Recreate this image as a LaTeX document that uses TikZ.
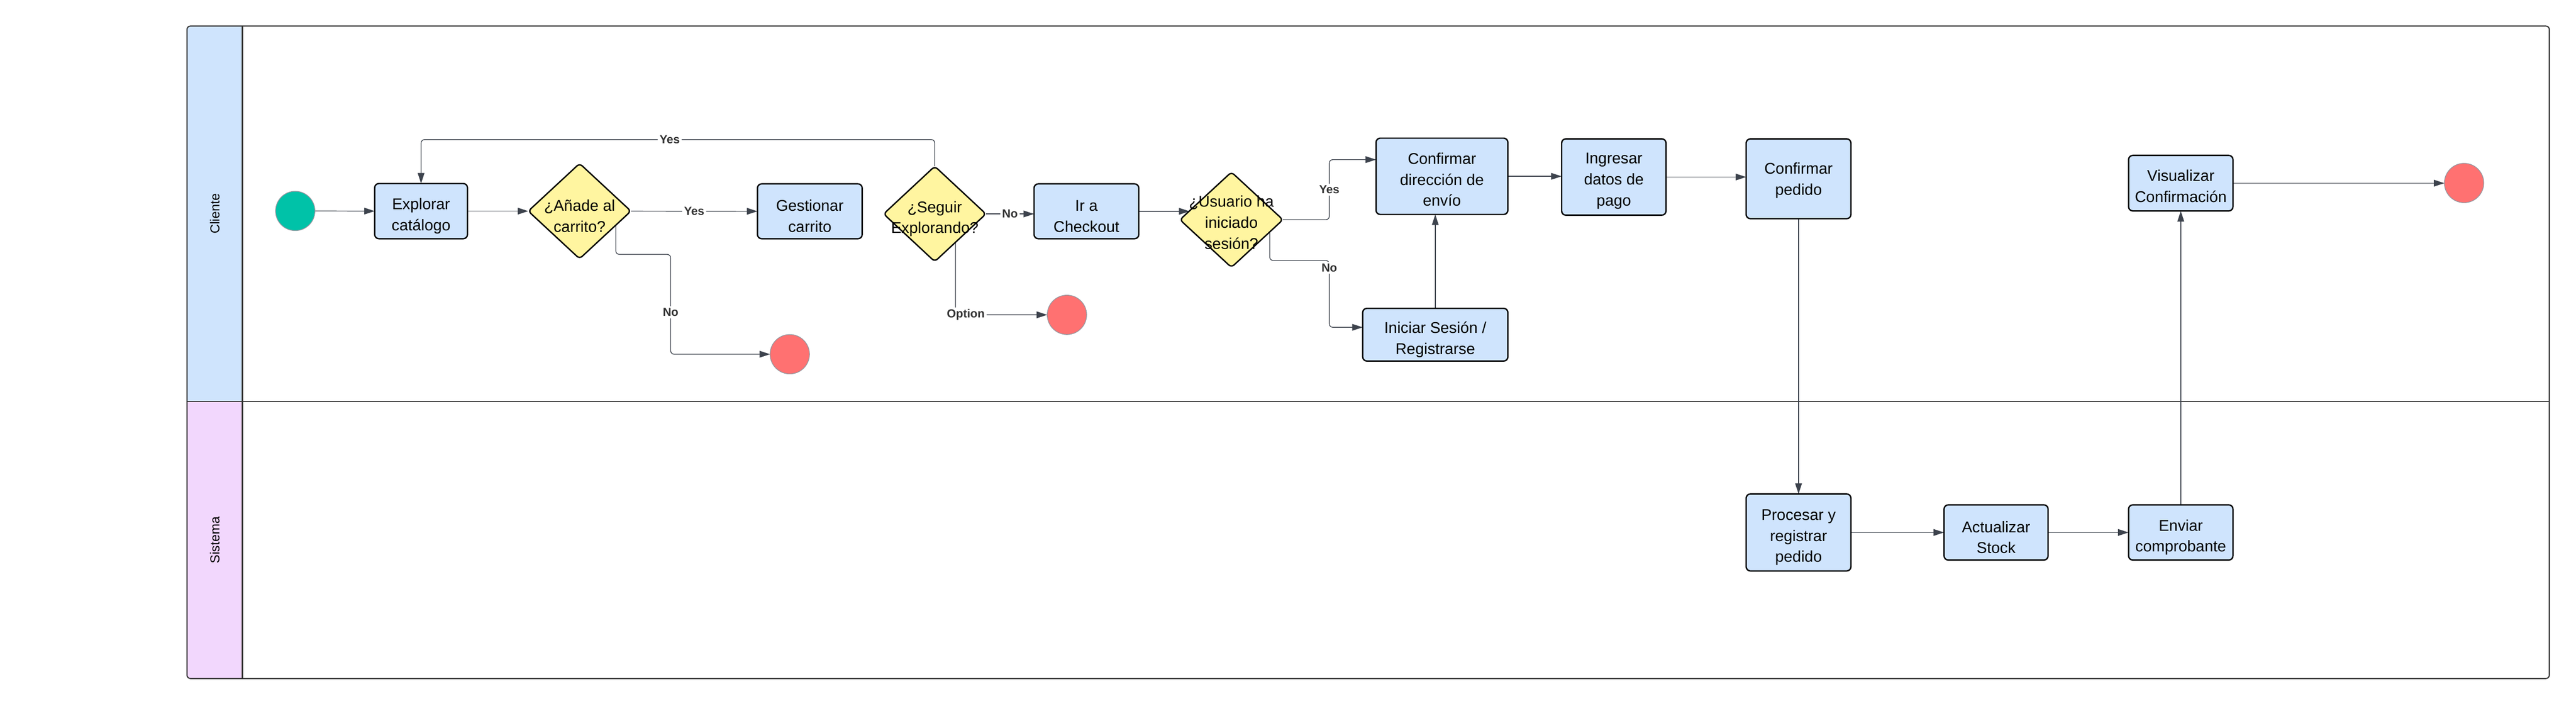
\documentclass[tikz,border=0pt]{standalone}
\usepackage{fontspec}
\setmainfont{Liberation Sans}
\usetikzlibrary{shapes.geometric,arrows.meta,calc}
\pgfdeclarelayer{lanes}
\pgfdeclarelayer{edges}
\pgfsetlayers{lanes,edges,main}
\definecolor{boxfill}{RGB}{207,228,253}
\definecolor{decfill}{RGB}{255,245,160}
\definecolor{startfill}{RGB}{0,194,168}
\definecolor{endfill}{RGB}{255,113,113}
\definecolor{evborder}{RGB}{150,152,160}
\definecolor{laneone}{RGB}{207,228,253}
\definecolor{lanetwo}{RGB}{242,215,253}
\definecolor{poolcol}{RGB}{51,51,51}
\definecolor{edgecol}{RGB}{61,67,77}
\definecolor{lblcol}{RGB}{51,51,51}
\begin{document}
\begin{tikzpicture}[x=1cm,y=-1cm,
  task/.style={draw=black, line width=1.1pt, fill=boxfill, rounded corners=0.12cm,
    inner sep=0pt, outer sep=0pt},
  dec/.style={diamond, draw=black, line width=1.1pt, fill=decfill, rounded corners=0.1cm,
    inner sep=0pt, outer sep=0pt, minimum width=2.92cm, minimum height=2.71cm},
  tt/.style={align=center, font=\fontsize{12.6}{17}\selectfont, inner sep=0pt, yshift=-0.14cm},
  startev/.style={circle, fill=startfill, draw=evborder, line width=0.55pt,
    minimum size=1.12cm, inner sep=0pt, outer sep=0pt},
  endev/.style={circle, fill=endfill, draw=evborder, line width=0.55pt,
    minimum size=1.12cm, inner sep=0pt, outer sep=0pt},
  flow/.style={draw=edgecol, line width=0.6pt, rounded corners=0.1cm,
    -{Triangle[length=0.3cm,width=0.19cm]}},
  lbl/.style={fill=white, text=lblcol, font=\fontsize{9.5}{11}\selectfont\bfseries,
    inner sep=1.5pt},
  lanelbl/.style={rotate=90, font=\fontsize{10.5}{12}\selectfont, text=black}
]
\useasboundingbox (0,0) rectangle (73.29,20.08);

% ---------- nodes ----------
\node[startev] (start) at (8.40,6.00) {};
\node[task, minimum width=2.64cm, minimum height=1.57cm,
  label={[tt]center:{Explorar\\catálogo}}] (explorar) at (11.98,6.005) {};
\node[dec, label={[tt]center:{¿Añade al\\carrito?}}] (anade) at (16.49,6.005) {};
\node[task, minimum width=2.98cm, minimum height=1.56cm,
  label={[tt]center:{Gestionar\\carrito}}] (gestionar) at (23.04,6.01) {};
\node[dec, minimum width=2.91cm, label={[tt]center:{¿Seguir\\Explorando?}}] (seguir) at (26.595,6.085) {};
\node[task, minimum width=2.98cm, minimum height=1.56cm,
  label={[tt]center:{Ir a\\Checkout}}] (checkout) at (30.91,6.01) {};
\node[endev] (end1) at (22.47,10.075) {};
\node[endev] (end2) at (30.355,8.955) {};
\node[dec, minimum width=2.93cm, label={[tt, yshift=0.06cm]center:{¿Usuario ha\\iniciado\\sesión?}}] (usuario) at (35.035,6.25) {};
\node[task, minimum width=3.75cm, minimum height=2.17cm,
  label={[tt, yshift=0.05cm]center:{Confirmar\\dirección de\\envío}}] (confdir) at (41.025,5.015) {};
\node[task, minimum width=4.13cm, minimum height=1.50cm,
  label={[tt]center:{Iniciar Sesión /\\Registrarse}}] (iniciar) at (40.835,9.52) {};
\node[task, minimum width=2.97cm, minimum height=2.17cm,
  label={[tt, yshift=0.03cm]center:{Ingresar\\datos de\\pago}}] (ingresar) at (45.915,5.035) {};
\node[task, minimum width=2.98cm, minimum height=2.27cm,
  label={[tt, yshift=0.09cm]center:{Confirmar\\pedido}}] (confpedido) at (51.17,5.085) {};
\node[task, minimum width=2.97cm, minimum height=1.58cm,
  label={[tt, yshift=0.055cm]center:{Visualizar\\Confirmación}}] (visualizar) at (62.045,5.21) {};
\node[endev] (end3) at (70.105,5.205) {};
\node[task, minimum width=2.98cm, minimum height=2.19cm,
  label={[tt]center:{Procesar y\\registrar\\pedido}}] (procesar) at (51.17,15.145) {};
\node[task, minimum width=2.96cm, minimum height=1.57cm,
  label={[tt]center:{Actualizar\\Stock}}] (actualizar) at (56.79,15.145) {};
\node[task, minimum width=2.97cm, minimum height=1.57cm,
  label={[tt]center:{Enviar\\comprobante}}] (enviar) at (62.045,15.145) {};

% ---------- pool and lanes ----------
\begin{pgfonlayer}{lanes}
  \fill[laneone, rounded corners=0.1cm] (5.32,0.74) rectangle (6.90,11.42);
  \fill[laneone] (6.50,0.74) rectangle (6.90,11.42);
  \fill[laneone] (5.32,11.00) rectangle (6.90,11.42);
  \fill[lanetwo, rounded corners=0.1cm] (5.32,11.42) rectangle (6.90,19.30);
  \fill[lanetwo] (6.50,11.42) rectangle (6.90,19.30);
  \fill[lanetwo] (5.32,11.42) rectangle (6.90,11.80);
  \draw[poolcol, line width=0.9pt, rounded corners=0.1cm] (5.32,0.74) rectangle (72.53,19.30);
  \draw[poolcol, line width=1.1pt] (6.90,0.74) -- (6.90,19.30);
  \draw[poolcol, line width=0.9pt] (5.32,11.42) -- (72.53,11.42);
  \node[lanelbl] (lcliente) at (6.11,6.08) {Cliente};
  \node[lanelbl] (lsistema) at (6.11,15.36) {Sistema};
\end{pgfonlayer}

% ---------- connectors ----------
\coordinate (loopy) at (0,3.97);
\coordinate (bx) at (37.82,0);
\coordinate (confdirin) at ([yshift=0.475cm]confdir.west);
\coordinate (iniin) at ([yshift=0.21cm]iniciar.west);
\begin{pgfonlayer}{edges}
  \draw[flow] (start.east) -- (explorar.west);
  \draw[flow] (explorar.east) -- (anade.west);
  \draw[flow] (anade.east) -- node[lbl] (lyes1) {Yes} (gestionar.west);
  \draw[flow] ([xshift=1.03cm]anade.center) -- ++(0,1.23)
     -| node[lbl, pos=0.79] (lno1) {No} ([xshift=-2.83cm]end1.west) -- (end1.west);
  \draw[flow] (seguir.north) -- (seguir.north |- loopy)
     -- node[lbl, pos=0.516] (lyes2) {Yes} (explorar.north |- loopy) -- (explorar.north);
  \draw[flow] (seguir.east) -- node[lbl] (lno2) {No} (seguir.east -| checkout.west);
  \draw[flow] ([xshift=0.59cm]seguir.center) |- node[lbl, pos=0.556] (lopt) {Option} (end2.west);
  \draw[flow] (checkout.east) -- (checkout.east -| usuario.168);
  \draw[flow] (usuario.east) -- (usuario.east -| bx)
     -- node[lbl] (lyes3) {Yes} (bx |- confdirin) -- (confdirin);
  \draw[flow] ([xshift=1.09cm]usuario.center) -- ++(0,1.16) coordinate (nbone)
     -- (nbone -| bx) -- (bx |- iniin) -- (iniin);
  \node[lbl] (lno3) at ($(bx)+(0,7.62)$) {No};
  \draw[flow] (iniciar.north) -- (iniciar.north |- confdir.south);
  \draw[flow] (confdir.east) -- (confdir.east -| ingresar.west);
  \draw[flow] (ingresar.east) -- (ingresar.east -| confpedido.west);
  \draw[flow] (confpedido.south) -- (procesar.north);
  \draw[flow] (procesar.east) -- (actualizar.west);
  \draw[flow] (actualizar.east) -- (enviar.west);
  \draw[flow] (enviar.north) -- (visualizar.south);
  \draw[flow] (visualizar.east) -- (visualizar.east -| end3.west);
\end{pgfonlayer}
\end{tikzpicture}
\end{document}
